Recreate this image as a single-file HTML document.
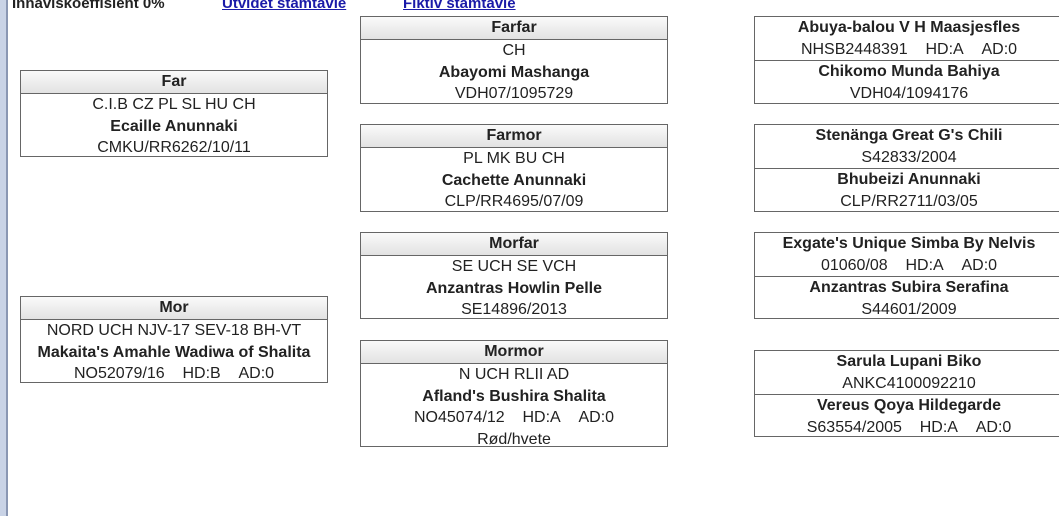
<!DOCTYPE html>
<html><head><meta charset="utf-8"><style>
body{margin:0;width:1059px;height:516px;overflow:hidden;background:#fff;font-family:"Liberation Sans",sans-serif;color:#222;position:relative}
.bar{position:absolute;left:0;top:0;width:6px;height:516px;background:#c9d3e6;border-right:2px solid #8a97b3}
.top{position:absolute;top:-5px;font-size:15px;font-weight:bold;white-space:nowrap}
.top a{color:#1a1aa8;text-decoration:underline}
.box{position:absolute;border:1px solid #666;background:#fff;text-align:center;font-size:16px;line-height:21.5px;box-sizing:border-box;white-space:nowrap;overflow:hidden}
.h{font-weight:bold;background:linear-gradient(#fafafa,#e2e2e2);border-bottom:1px solid #666;height:22px;line-height:22px}
.b{font-weight:bold}
.s{border-top:1px solid #666}
</style></head><body>
<div class="bar"></div>
<div class="top" style="left:12px">Innavlskoeffisient 0%</div>
<div class="top" style="left:222px"><a>Utvidet stamtavle</a></div>
<div class="top" style="left:403px"><a>Fiktiv stamtavle</a></div>

<div class="box" style="left:20px;top:70px;width:308px;height:87px"><div class="h">Far</div><div>C.I.B CZ PL SL HU CH</div><div class="b">Ecaille Anunnaki</div><div>CMKU/RR6262/10/11</div></div>
<div class="box" style="left:20px;top:296px;width:308px;height:87px"><div class="h">Mor</div><div>NORD UCH NJV-17 SEV-18 BH-VT</div><div class="b">Makaita's Amahle Wadiwa of Shalita</div><div>NO52079/16&nbsp;&nbsp;&nbsp;&nbsp;HD:B&nbsp;&nbsp;&nbsp;&nbsp;AD:0</div></div>

<div class="box" style="left:360px;top:16px;width:308px;height:88px"><div class="h">Farfar</div><div>CH</div><div class="b">Abayomi Mashanga</div><div>VDH07/1095729</div></div>
<div class="box" style="left:360px;top:124px;width:308px;height:88px"><div class="h">Farmor</div><div>PL MK BU CH</div><div class="b">Cachette Anunnaki</div><div>CLP/RR4695/07/09</div></div>
<div class="box" style="left:360px;top:232px;width:308px;height:87px"><div class="h">Morfar</div><div>SE UCH SE VCH</div><div class="b">Anzantras Howlin Pelle</div><div>SE14896/2013</div></div>
<div class="box" style="left:360px;top:340px;width:308px;height:107px"><div class="h">Mormor</div><div>N UCH RLII AD</div><div class="b">Afland's Bushira Shalita</div><div>NO45074/12&nbsp;&nbsp;&nbsp;&nbsp;HD:A&nbsp;&nbsp;&nbsp;&nbsp;AD:0</div><div>Rød/hvete</div></div>

<div class="box" style="left:754px;top:16px;width:310px;height:88px;padding-top:0"><div class="b">Abuya-balou V H Maasjesfles</div><div>NHSB2448391&nbsp;&nbsp;&nbsp;&nbsp;HD:A&nbsp;&nbsp;&nbsp;&nbsp;AD:0</div><div class="b s">Chikomo Munda Bahiya</div><div>VDH04/1094176</div></div>
<div class="box" style="left:754px;top:124px;width:310px;height:88px"><div class="b">Stenänga Great G's Chili</div><div>S42833/2004</div><div class="b s">Bhubeizi Anunnaki</div><div>CLP/RR2711/03/05</div></div>
<div class="box" style="left:754px;top:232px;width:310px;height:87px"><div class="b">Exgate's Unique Simba By Nelvis</div><div>01060/08&nbsp;&nbsp;&nbsp;&nbsp;HD:A&nbsp;&nbsp;&nbsp;&nbsp;AD:0</div><div class="b s">Anzantras Subira Serafina</div><div>S44601/2009</div></div>
<div class="box" style="left:754px;top:350px;width:310px;height:87px"><div class="b">Sarula Lupani Biko</div><div>ANKC4100092210</div><div class="b s">Vereus Qoya Hildegarde</div><div>S63554/2005&nbsp;&nbsp;&nbsp;&nbsp;HD:A&nbsp;&nbsp;&nbsp;&nbsp;AD:0</div></div>
</body></html>
